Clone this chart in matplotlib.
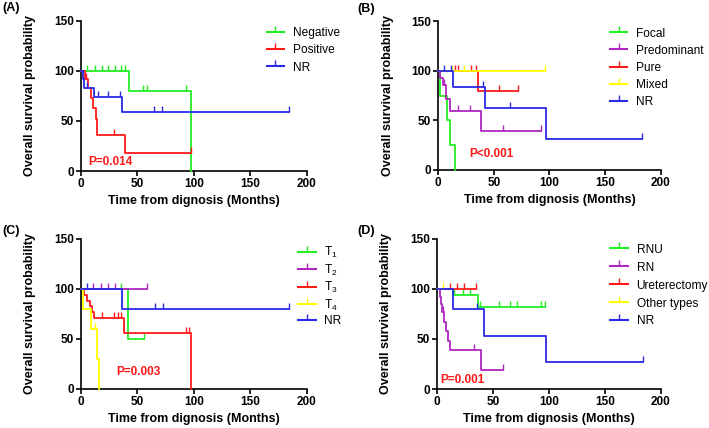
import numpy as np
import matplotlib
matplotlib.use('Agg')
import matplotlib.pyplot as plt
from matplotlib.lines import Line2D

plt.rcParams['font.family'] = ['Liberation Sans', 'DejaVu Sans']
plt.rcParams['mathtext.default'] = 'regular'

GREEN = '#22ee22'
RED = '#ff1a1a'
BLUE = '#2a2ae6'
PURPLE = '#b026c0'
YELLOW = '#ffff00'

# ---- Panel A: Negative / Positive / NR
a_labels = ['Negative', 'Positive', 'NR']
a_times = [[0, 42.2, 97.6],
           [0, 3.8, 6.5, 8.6, 10.4, 13.0, 14.4, 38.9],
           [0, 1.8, 2.9, 11.8, 36.0]]
a_surv = [[100, 80, 0],
          [100, 91.7, 83.3, 72.9, 62.5, 52.1, 36.4, 18.2],
          [100, 91.7, 83.3, 74.1, 59.3]]
a_end = [97.6, 97.0, 183.8]
a_cens = [[5.6, 12.1, 18.3, 24.2, 30.1, 35.1, 39.2, 54.6, 58.1, 92.9],
          [5.0, 29.2, 97.0],
          [5.6, 15.3, 24.2, 34.5, 64.9, 72.0, 183.8]]
a_colors = [GREEN, RED, BLUE]

# ---- Panel B: Focal / Predominant / Pure / Mixed / NR
b_labels = ['Focal', 'Predominant', 'Pure', 'Mixed', 'NR']
b_times = [[0, 1.5, 7.8, 10.8, 14.7],
           [0, 2.1, 4.5, 6.6, 10.8, 38.5],
           [0, 35.7],
           [0],
           [0, 13.5, 41.7, 96.6]]
b_surv = [[100, 75, 50, 25, 0],
          [100, 92.9, 85.7, 71.4, 59.5, 39.7],
          [100, 80],
          [100],
          [100, 83.3, 62.5, 31.3]]
b_end = [14.7, 92.6, 71.7, 95.7, 182.9]
b_cens = [[],
          [5.4, 17.7, 28.5, 57.9, 92.6],
          [15.0, 17.7, 29.1, 34.3, 54.3, 71.7],
          [12.0, 23.1, 95.7],
          [5.1, 11.1, 40.5, 64.5, 182.9]]
b_colors = [GREEN, PURPLE, RED, YELLOW, BLUE]

# ---- Panel C: T stage
c_labels = ['T$_1$', 'T$_2$', 'T$_3$', 'T$_4$', 'NR']
c_times = [[0, 41.3],
           [0],
           [0, 2.7, 5.6, 7.7, 9.7, 11.5, 38.6, 97.6],
           [0, 2.1, 8.8, 13.9, 15.9],
           [0, 36.6]]
c_surv = [[100, 50],
          [100],
          [100, 94.1, 88.2, 82.4, 76.5, 70.6, 55.6, 0],
          [100, 80, 60, 30, 0],
          [100, 80]]
c_end = [55.8, 58.4, 97.6, 15.9, 183.8]
c_cens = [[35.1, 55.8],
          [10.9, 18.0, 24.2, 30.1, 58.4],
          [18.3, 29.2, 32.7, 35.1, 93.2, 95.6],
          [12.4],
          [5.6, 65.5, 72.3, 183.8]]
c_colors = [GREEN, PURPLE, RED, YELLOW, BLUE]

# ---- Panel D: surgery type
d_labels = ['RNU', 'RN', 'Ureterectomy', 'Other types', 'NR']
d_times = [[0, 14.3, 36.6],
           [0, 2.7, 3.9, 5.1, 6.8, 8.6, 10.1, 12.2, 39.9],
           [0],
           [0],
           [0, 14.3, 42.0, 97.6]]
d_surv = [[100, 94.4, 82.0],
          [100, 92.3, 84.6, 76.9, 67.3, 57.7, 48.1, 38.5, 19.2],
          [100],
          [100],
          [100, 80, 53.3, 26.7]]
d_end = [96.4, 58.9, 35.4, 5.7, 183.7]
d_cens = [[15.8, 23.5, 29.5, 38.4, 55.4, 65.2, 71.7, 93.2, 96.2],
          [5.7, 33.6, 58.9],
          [12.2, 18.2, 24.1, 35.4],
          [5.7],
          [36.0, 183.7]]
d_colors = [GREEN, PURPLE, RED, YELLOW, BLUE]

p_texts = ['P=0.014', 'P<0.001', 'P=0.003', 'P=0.001']
p_pos = [(6.5, 9.3), (28.2, 16), (31.6, 16.7), (2.7, 9.3)]
letters = ['(A)', '(B)', '(C)', '(D)']


def survival_at(times, surv, t):
    idx = np.searchsorted(times, t, side='right') - 1
    return np.asarray(surv)[idx]


def draw_panel(ax, labels, times, surv, ends, cens, colors, ptext, ppos,
               leg_anchor, spacing):
    handles = []
    for lab, t, s, e, c, col in zip(labels, times, surv, ends, cens, colors):
        ax.step(t + [e], s + [s[-1]], where='post', color=col, lw=1.3,
                clip_on=False, zorder=3)
        if c:
            ax.plot(c, survival_at(t, s, c), ls='none', marker=2, ms=4,
                    mew=1.0, color=col, clip_on=False, zorder=3)
        handles.append(Line2D([0], [0], color=col, lw=1.5, marker=2,
                              ms=4, mew=1.0))
    ax.set_xlim(0, 200)
    ax.set_ylim(0, 150)
    ax.set_xticks([0, 50, 100, 150, 200])
    ax.set_yticks([0, 50, 100, 150])
    for sp in ['top', 'right']:
        ax.spines[sp].set_visible(False)
    for sp in ['left', 'bottom']:
        ax.spines[sp].set_linewidth(1.2)
    ax.tick_params(direction='out', length=3.5, width=1.2, labelsize=8.5,
                   pad=1.5)
    for lbl in ax.get_xticklabels() + ax.get_yticklabels():
        lbl.set_fontweight('bold')
    ax.set_xlabel('Time from dignosis (Months)', fontsize=9, fontweight='bold')
    ax.set_ylabel('Overall survival probability', fontsize=9, fontweight='bold')
    ax.xaxis.set_label_coords(0.5, -0.16)
    ax.yaxis.set_label_coords(-0.2, 0.5)
    ax.text(ppos[0], ppos[1], ptext, color=RED, fontsize=8.5,
            fontweight='bold', ha='left', va='center')
    ax.legend(handles, labels, loc='upper left', bbox_to_anchor=leg_anchor,
              frameon=False, fontsize=8.6, handlelength=1.45,
              handletextpad=0.75, labelspacing=spacing, borderaxespad=0)


fig = plt.figure(figsize=(7.09, 4.28), dpi=100)
axA = fig.add_axes([0.114, 0.600, 0.319, 0.352])
axB = fig.add_axes([0.618, 0.603, 0.314, 0.347])
axC = fig.add_axes([0.114, 0.092, 0.319, 0.350])
axD = fig.add_axes([0.616, 0.091, 0.316, 0.351])

draw_panel(axA, a_labels, a_times, a_surv, a_end, a_cens, a_colors,
           p_texts[0], p_pos[0], (0.80, 0.99), 0.45)
draw_panel(axB, b_labels, b_times, b_surv, b_end, b_cens, b_colors,
           p_texts[1], p_pos[1], (0.75, 0.99), 0.42)
draw_panel(axC, c_labels, c_times, c_surv, c_end, c_cens, c_colors,
           p_texts[2], p_pos[2], (0.94, 0.99), 0.2)
draw_panel(axD, d_labels, d_times, d_surv, d_end, d_cens, d_colors,
           p_texts[3], p_pos[3], (0.753, 1.0), 0.5)

fig.text(0.004, 1 - 8.5 / 428, letters[0], fontsize=9, fontweight='bold', va='center')
fig.text(0.504, 1 - 9 / 428, letters[1], fontsize=9, fontweight='bold', va='center')
fig.text(0.004, 1 - 231 / 428, letters[2], fontsize=9, fontweight='bold', va='center')
fig.text(0.504, 1 - 231 / 428, letters[3], fontsize=9, fontweight='bold', va='center')

fig.savefig('out.png', dpi=100)
